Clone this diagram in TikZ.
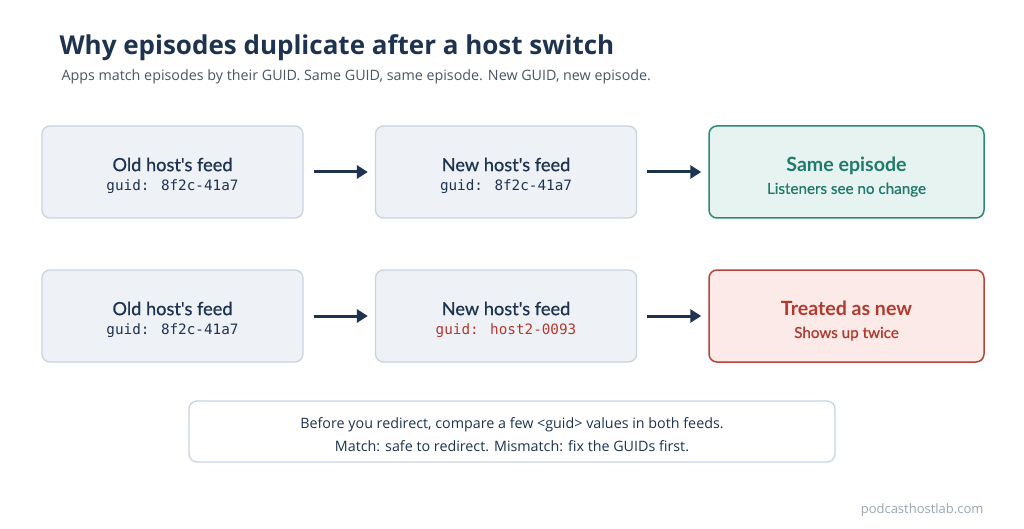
\documentclass[tikz,border=0pt]{standalone}
\usepackage{fontspec}
\setmainfont{Lato}
\newfontfamily\medfont{Lato}[FakeBold=0.7]
\newfontfamily\titlefont{Open Sans}
\newfontfamily\monofont{DejaVu Sans Mono}
\usetikzlibrary{arrows.meta}
\definecolor{navy}{HTML}{1E3350}
\definecolor{boxfill}{HTML}{EEF2F7}
\definecolor{boxline}{HTML}{C9D3DF}
\definecolor{gline}{HTML}{2A8A7A}
\definecolor{gfill}{HTML}{E6F3F0}
\definecolor{gtext}{HTML}{1F7A6B}
\definecolor{rline}{HTML}{B5443A}
\definecolor{rfill}{HTML}{FBEAE8}
\definecolor{rtext}{HTML}{B03A2E}
\definecolor{subgray}{HTML}{4A5563}
\definecolor{footgray}{HTML}{9AA6B5}
\tikzset{
  boxbase/.style={rounded corners=8pt, minimum height=92pt, inner sep=0pt},
  feedbox/.style={boxbase, draw=boxline, fill=boxfill, line width=1.3pt, minimum width=261pt},
  goodbox/.style={boxbase, draw=gline, fill=gfill, line width=1.5pt, minimum width=275pt},
  badbox/.style={boxbase, draw=rline, fill=rfill, line width=1.5pt, minimum width=275pt},
  feedlabel/.style={align=center, inner sep=0pt, text=navy, font=\fontsize{14}{19}\selectfont},
  resultlabel/.style={align=center, inner sep=0pt, font=\fontsize{14}{22}\selectfont},
  flow/.style={draw=navy, line width=3pt, -{Triangle[length=11pt,width=13pt]}, shorten >=1pt},
}
\newcommand{\headtext}[1]{{\medfont\fontsize{18.2}{19}\selectfont #1}}
\newcommand{\guidtext}[1]{{\monofont\fontsize{14.3}{19}\selectfont #1}}
\newcommand{\restext}[2]{{\bfseries\fontsize{19.6}{22}\selectfont #1}\\{\medfont\fontsize{15.2}{22}\selectfont #2}}
\begin{document}
\begin{tikzpicture}[x=1pt,y=-1pt]
\useasboundingbox[fill=white] (0,0) rectangle (1024,529);
\node[anchor=base west, text=navy, font=\titlefont\bfseries\fontsize{26}{30}\selectfont] (title) at (56,55) {Why episodes duplicate after a host switch};
\node[anchor=base west, text=subgray, font=\titlefont\fontsize{14.3}{17}\selectfont] (sub) at (58,81) {Apps match episodes by their GUID. Same GUID, same episode. New GUID, new episode.};

\node[feedbox] (a1) at (172.5,172) {};
\node[feedbox] (b1) at (506,172) {};
\node[goodbox] (c1) at (846.5,172) {};
\node[feedbox] (a2) at (172.5,316) {};
\node[feedbox] (b2) at (506,316) {};
\node[badbox] (c2) at (846.5,316) {};

\node[feedlabel] (a1t) at ([yshift=-3.5pt]a1.center) {\headtext{Old host's feed}\\\guidtext{guid: 8f2c-41a7}};
\node[feedlabel] (b1t) at ([yshift=-3.5pt]b1.center) {\headtext{New host's feed}\\\guidtext{guid: 8f2c-41a7}};
\node[resultlabel, text=gtext] (c1t) at ([yshift=-5pt]c1.center) {\restext{Same episode}{Listeners see no change}};
\node[feedlabel] (a2t) at ([yshift=-3.5pt]a2.center) {\headtext{Old host's feed}\\\guidtext{guid: 8f2c-41a7}};
\node[feedlabel] (b2t) at ([yshift=-3.5pt]b2.center) {\headtext{New host's feed}\\\guidtext{\color{rtext}guid: host2-0093}};
\node[resultlabel, text=rtext] (c2t) at ([yshift=-5pt]c2.center) {\restext{Treated as new}{Shows up twice}};

\draw[flow] ([xshift=10pt]a1.east) -- ([xshift=-6pt]b1.west);
\draw[flow] ([xshift=10pt]b1.east) -- ([xshift=-6pt]c1.west);
\draw[flow] ([xshift=10pt]a2.east) -- ([xshift=-6pt]b2.west);
\draw[flow] ([xshift=10pt]b2.east) -- ([xshift=-6pt]c2.west);

\node[draw=boxline, fill=white, line width=1.3pt, rounded corners=8pt, minimum width=646pt, minimum height=61pt, inner sep=0pt] (note) at (512,431.5) {};
\node[align=center, inner sep=0pt, text=navy, font=\titlefont\fontsize{14.3}{23}\selectfont] (notet) at ([yshift=-3pt]note.center) {Before you redirect, compare a few <guid> values in both feeds.\\Match: safe to redirect. Mismatch: fix the GUIDs first.};

\node[anchor=base east, text=footgray, font=\titlefont\fontsize{13}{16}\selectfont] (foot) at (987,513) {podcasthostlab.com};
\end{tikzpicture}
\end{document}
